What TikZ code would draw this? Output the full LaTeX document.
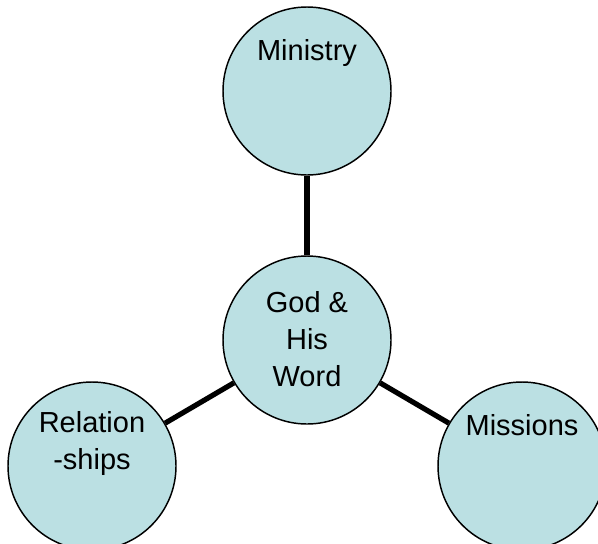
\documentclass[tikz,border=0pt]{standalone}
\usepackage{fontspec}
\setmainfont{Liberation Sans}
\definecolor{bubblefill}{RGB}{187,224,227}
\tikzset{every picture/.style={line width=0.75pt}}

\begin{document}
\begin{tikzpicture}[x=0.75pt,y=0.75pt,yscale=-1,xscale=1,
	bubble/.style={circle, draw, fill=bubblefill, line width=1.1pt, minimum size=126pt, inner sep=0pt},
	spoke/.style={line width=3.9pt},
	lbl/.style={align=center, inner sep=0pt, font=\fontsize{21.75}{27.75}\selectfont}]
		\useasboundingbox (0,0) rectangle (598,543);
		
		%Shape: Circles
		\node [bubble] (god) at (307,340) {};
		\node [bubble] (ministry) at (307,91) {};
		\node [bubble] (relations) at (92,466) {};
		\node [bubble] (missions) at (522,466) {};
		
		%Spokes
		\draw [spoke] (god) -- (ministry);
		\draw [spoke] (god) -- (relations);
		\draw [spoke] (god) -- (missions);
		
		\node [lbl] (godtxt) at (307,339) {God \&\\His\\Word};
		\node [lbl] (ministrytxt) at (307,53) {Ministry};
		\node [lbl] (relationstxt) at (92,443) {Relation\\-ships};
		\node [lbl] (missionstxt) at (522,425) {Missions};
		
\end{tikzpicture}
\end{document}
